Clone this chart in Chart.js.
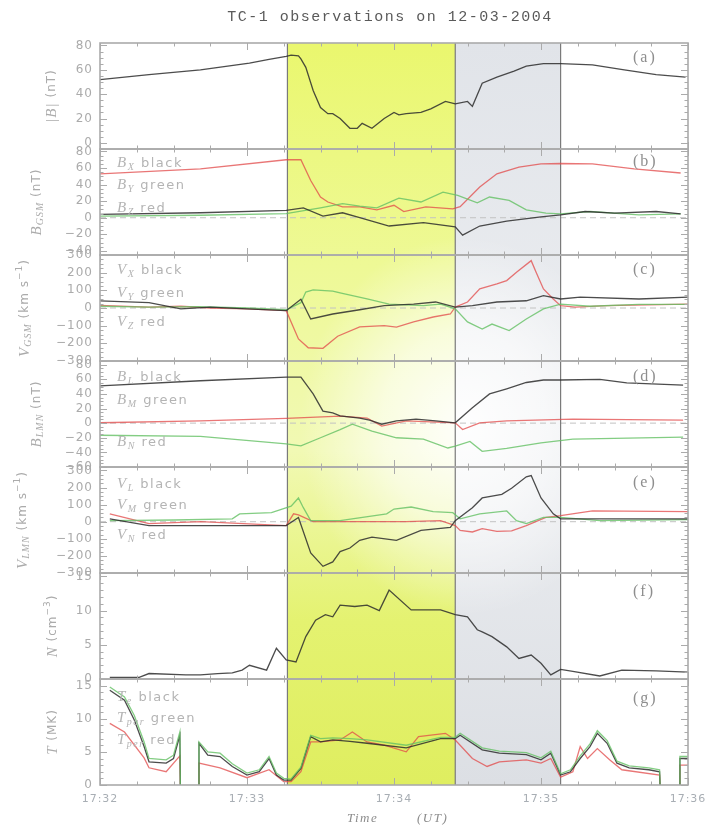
<!DOCTYPE html>
<html>
<head>
<meta charset="utf-8">
<script src="https://cdn.jsdelivr.net/npm/chart.js@4.4.0/dist/chart.umd.min.js"></script>
<style>
  html, body { margin: 0; padding: 0; background: #fff; }
  canvas { display: block; }
</style>
</head>
<body>
<canvas id="tc1" width="716" height="827"></canvas>
<script>
// Time is given in seconds after 17:32:00 UT.
const timeTicks = [0, 60, 120, 180, 240];
const timeTickLabels = ['17:32', '17:33', '17:34', '17:35', '17:36'];
const intervalYellow = [76.5, 145];
const intervalGrey = [145, 188];

// (a) |B|
const tAbsB = [0,20,41,61,69,76,78,81,82,84,87,90,93,95,98,102,105,107,111,116,120,122,125,131,135,141,145,150,152,156,162,169,174,181,188,201,214,227,239];
const absB  = [52,56,60,65.5,68.5,71,72,71.5,69,62,43,29,24,24,20,12,12,16,12,20,25,23,24,25,28,34,32,34,30,49,54,59,63,65,65,64,60,56,54];

// (b) B in GSM
const tBx = [0,41,76,82,86,90,93,99,106,113,120,124,133,144,147,155,162,171,180,188,201,218,237];
const bx  = [53,59,70,70,45,25,19,13,13,9.5,15,7.5,13,10.7,13.4,37,53,61,65,65.5,65,59,54];
const tBy = [0,41,76,82,90,99,106,113,122,131,140,146,154,159,167,174,182,188,200,220,237];
const by  = [2,3,5,8,12,17,14,12,23.6,19,31,27,18,25,21,9.5,5.6,4.7,7.5,3.5,4.7];
const tBz = [0,41,76,83,91,99,106,118,132,145,148,155,166,180,188,198,210,227,237];
const bz  = [4,6,9,12,2,6,0,-10,-6,-11,-21,-10,-4,1,3.5,7.5,5.6,7.5,4.7];

// (c) V in GSM
const tVx = [0,20,33,45,60,76,82,86,95,106,116,128,137,145,152,162,174,181,188,196,220,240];
const vx  = [40,30,-5,5,-5,-15,50,-62,-34,-10,13,22,34,5,13,34,41,70,51,62,51,62];
const tVy = [0,20,40,60,76,82,84,87,95,98,109,118,132,139,145,150,156,160,167,174,181,188,200,220,240];
const vy  = [10,5,8,0,-10,30,90,103,95,85,51,22,13,22,-5,-79,-119,-91,-128,-62,-5,22,10,20,20];
const tVz = [0,20,33,45,60,76,81,85,91,97,106,116,121,128,136,143,145,150,155,162,166,170,176,178,181,185,188,194,207,240];
const vz  = [15,5,10,0,-5,-15,-175,-225,-228,-160,-107,-100,-108,-79,-51,-34,5,34,108,136,155,202,268,202,108,51,13,5,13,22];

// (d) B in LMN
const tBL = [0,41,76,82,87,91,95,98,106,110,115,121,129,137,145,152,159,166,174,181,188,204,215,238];
const bl  = [51,58,63,63,40,16.5,14,10,7,4,-1.5,3,5.5,3,0.5,21,40,47,55.6,59,59,60,55,52];
const tBM = [0,41,76,82,90,98,103,111,121,132,142,145,151,156,166,180,193,238];
const bm  = [-16.6,-18,-28.5,-31,-20,-9,-1.5,-11,-20,-22,-34,-31.5,-25,-38.6,-34.5,-27,-22,-19];
const tBN = [0,41,76,98,109,115,125,145,148,155,166,193,238];
const bn  = [0.5,3,6.4,9.7,7,-4,3,0.5,-8.7,0.5,3,5.5,4];

// (e) V in LMN
const tVL = [4,20,76,81,86,91,95,98,102,106,111,121,131,143,145,152,156,164,168,174,176,180,185,188,207,240];
const vl  = [17,-23,-23,25,-183,-261,-235,-175,-154,-109,-90,-109,-51,-33,6,82,139,160,196,263,270,139,46,17,17,17];
const tVM = [4,30,54,57,70,78,81,83,86,98,117,120,127,136,144,147,155,166,170,174,181,188,204,240];
const vm  = [6,10,17,46,53,91,139,82,6,6,46,74,86,59,53,17,46,63,6,-11,25,25,6,12];
const tVN = [4,20,41,76,79,81,87,106,125,139,145,147,152,156,162,168,174,182,188,201,240];
const vn  = [46,-11,0,-23,46,40,0,0,0,6,-23,-51,-60,-40,-56,-54,-23,25,35,63,59];

// (f) density
const tN = [4,16,20,35,41,48,54,58,61,68,72,76,80,84,88,92,95,98,104,109,114,118,127,139,145,150,154,156,160,166,171,176,180,184,188,193,204,213,227,240];
const dens = [0.25,0.25,0.8,0.6,0.6,0.8,0.9,1.3,2.0,1.3,4.5,2.8,2.5,6.2,8.6,9.4,9.1,10.8,10.6,10.8,10.0,13.0,10.1,10.1,9.4,9.1,7.2,6.9,6.2,4.7,3.0,3.5,2.3,0.6,1.4,1.1,0.44,1.3,1.2,1.0];

// (g) temperatures (null = data gap)
const tTe = [4,10,14,18,20,27,30,32.6,32.8,36,40.2,40.4,44,49,54,60,65,69,72,75,78,82,86,90,95,102,109,125,139,145,147,156,163,174,180,184,188,192,196,200,203,207,211,216,224,228.4,228.6,232,236.5,236.7,240];
const te   = [14.3,12.8,9.8,5.8,3.5,3.3,4.0,7.5,0,null,0,6.3,4.5,4.3,2.8,1.5,2.0,4.0,1.5,0.75,0.75,2.5,7.3,6.5,6.8,6.6,6.3,5.6,7.0,7.0,7.5,5.3,4.8,4.6,3.8,4.8,1.5,2.0,4.0,5.8,7.8,6.3,3.3,2.6,2.3,2.0,0,null,0,4.0,4.0];
const tpar = [14.8,13.3,10.5,6.5,4.0,3.8,4.5,8.0,0,null,0,6.5,5.0,4.8,3.2,1.8,2.3,4.3,1.8,1.0,0.9,2.7,7.5,7.0,7.1,7.0,6.8,6.0,7.2,7.2,7.8,5.6,5.1,4.9,4.1,5.1,1.7,2.3,4.4,6.2,8.2,6.7,3.6,2.9,2.6,2.3,0,null,0,4.3,4.3];
const tTper = [4,10,18,20,27,32.6,32.8,36,40.2,40.4,49,60,69,75,78,82,86,90,98,103,109,116,125,130,141,145,152,158,163,174,180,184,188,193,196,199,203,208,213,228.4,228.6,232,236.5,236.7,240];
const tper  = [9.3,8.0,4.1,2.6,2.0,4.4,0,null,0,3.3,2.6,1.1,2.3,0.5,0.5,2.0,6.5,6.5,6.8,8.0,6.5,6.0,5.0,7.3,7.8,6.8,4.0,2.8,3.5,3.8,3.3,4.0,1.2,2.0,5.8,4.0,5.5,3.8,2.3,1.5,0,null,0,3.0,3.0];

// Axis tick values per panel
const ticksA = [0,20,40,60,80];
const ticksB = [-40,-20,0,20,40,60,80];
const ticksC = [-300,-200,-100,0,100,200,300];
const ticksD = [-60,-40,-20,0,20,40,60,80];
const ticksE = [-300,-200,-100,0,100,200,300];
const ticksF = [0,5,10,15];
const ticksG = [0,5,10,15];

// ---------- styling ----------
const C_BLACK = 'rgba(45,45,45,0.85)';
const C_RED   = 'rgba(226,72,72,0.75)';
const C_GREEN = 'rgba(100,192,100,0.8)';
const TXT = '#ababab';
const SI  = 'italic 15px "Liberation Serif"';
const SUB = 'italic 10px "Liberation Serif"';
const SANS = '13px "DejaVu Sans"';
const ASANS = '12px "DejaVu Sans"';
const ASUP = '9px "DejaVu Sans"';

const panels = [
  { id: 'ya', min: -5,   max: 82,  ticks: ticksA, minor: 5,  zero: false, letter: '(a)', letterY: 62, titleX: 52,
    title: [['|B|', SI], [' (nT)', ASANS]] },
  { id: 'yb', min: -45,  max: 83,  ticks: ticksB, minor: 5,  zero: true,  letter: '(b)', letterY: 166, titleX: 37,
    title: [['B', SI], ['GSM', SUB, 3], [' (nT)', ASANS]] },
  { id: 'yc', min: -300, max: 300, ticks: ticksC, minor: 25, zero: true,  letter: '(c)', letterY: 274, titleX: 25,
    title: [['V', SI], ['GSM', SUB, 3], [' (km s', ASANS], ['\u22121', ASUP, -5], [')', ASANS]] },
  { id: 'yd', min: -60,  max: 85,  ticks: ticksD, minor: 5,  zero: true,  letter: '(d)', letterY: 381, titleX: 37,
    title: [['B', SI], ['LMN', SUB, 3], [' (nT)', ASANS]] },
  { id: 'ye', min: -300, max: 320, ticks: ticksE, minor: 25, zero: true,  letter: '(e)', letterY: 487, titleX: 23,
    title: [['V', SI], ['LMN', SUB, 3], [' (km s', ASANS], ['\u22121', ASUP, -5], [')', ASANS]] },
  { id: 'yf', min: 0,    max: 15.5, ticks: ticksF, minor: 1, zero: false, letter: '(f)', letterY: 596, titleX: 53,
    title: [['N', SI], [' (cm', ASANS], ['\u22123', ASUP, -5], [')', ASANS]] },
  { id: 'yg', min: 0,    max: 16,  ticks: ticksG, minor: 1,  zero: false, letter: '(g)', letterY: 703, titleX: 53,
    title: [['T', SI], [' (MK)', ASANS]] }
];

// in-panel series keys
const legends = [
  { y: 167, parts: [['B', SI], ['X', SUB, 3], [' black', SANS]] },
  { y: 189, parts: [['B', SI], ['Y', SUB, 3], [' green', SANS]] },
  { y: 212, parts: [['B', SI], ['Z', SUB, 3], [' red', SANS]] },
  { y: 274, parts: [['V', SI], ['X', SUB, 3], [' black', SANS]] },
  { y: 297, parts: [['V', SI], ['Y', SUB, 3], [' green', SANS]] },
  { y: 326, parts: [['V', SI], ['Z', SUB, 3], [' red', SANS]] },
  { y: 381, parts: [['B', SI], ['L', SUB, 3], [' black', SANS]] },
  { y: 404, parts: [['B', SI], ['M', SUB, 3], [' green', SANS]] },
  { y: 446, parts: [['B', SI], ['N', SUB, 3], [' red', SANS]] },
  { y: 488, parts: [['V', SI], ['L', SUB, 3], [' black', SANS]] },
  { y: 509, parts: [['V', SI], ['M', SUB, 3], [' green', SANS]] },
  { y: 539, parts: [['V', SI], ['N', SUB, 3], [' red', SANS]] },
  { y: 701, parts: [['T', SI], ['e', SUB, 3], [' black', SANS]] },
  { y: 722, parts: [['T', SI], ['par', SUB, 3], [' green', SANS]] },
  { y: 744, parts: [['T', SI], ['per', SUB, 3], [' red', SANS]] }
];

function pts(t, v) { return t.map((x, i) => ({ x: x, y: v[i] })); }
function line(t, v, axis, color) {
  return { data: pts(t, v), yAxisID: axis, borderColor: color, borderWidth: 1.3,
           pointRadius: 0, tension: 0, spanGaps: false, fill: false };
}

const datasets = [
  line(tAbsB, absB, 'ya', C_BLACK),
  line(tBz, bz, 'yb', C_BLACK), line(tBy, by, 'yb', C_GREEN), line(tBx, bx, 'yb', C_RED),
  line(tVx, vx, 'yc', C_BLACK), line(tVy, vy, 'yc', C_GREEN), line(tVz, vz, 'yc', C_RED),
  line(tBL, bl, 'yd', C_BLACK), line(tBM, bm, 'yd', C_GREEN), line(tBN, bn, 'yd', C_RED),
  line(tVL, vl, 'ye', C_BLACK), line(tVM, vm, 'ye', C_GREEN), line(tVN, vn, 'ye', C_RED),
  line(tN, dens, 'yf', C_BLACK),
  line(tTe, tpar, 'yg', C_GREEN), line(tTe, te, 'yg', C_BLACK), line(tTper, tper, 'yg', C_RED)
];

function fmt(v) { return v < 0 ? '\u2212' + (-v) : String(v); }

function richText(ctx, x, y, parts, align) {
  let w = 0;
  parts.forEach(p => { ctx.font = p[1]; w += ctx.measureText(p[0]).width; });
  let cx = align === 'center' ? x - w / 2 : x;
  parts.forEach(p => {
    ctx.font = p[1];
    ctx.fillText(p[0], cx, y + (p[2] || 0));
    cx += ctx.measureText(p[0]).width;
  });
}

const scales = {
  x: {
    type: 'linear', min: 0, max: 240, position: 'bottom',
    afterBuildTicks: s => { s.ticks = timeTicks.map(v => ({ value: v })); },
    afterFit: s => { s.height = 42; },
    ticks: { autoSkip: false, maxRotation: 0, padding: 8, color: '#a8aeb4',
             font: { family: 'DejaVu Sans', size: 11 },
             callback: v => timeTickLabels[timeTicks.indexOf(v)] },
    grid: { display: false, drawTicks: false },
    border: { display: false }
  }
};
// stacked panels: the last scale registered sits at the top
[...panels].reverse().forEach(p => {
  scales[p.id] = {
    type: 'linear', position: 'left', stack: 'panels', stackWeight: 1,
    min: p.min, max: p.max, bounds: 'data',
    afterBuildTicks: s => { s.ticks = p.ticks.map(v => ({ value: v })); },
    afterFit: s => { s.width = 85; },
    ticks: { autoSkip: false, padding: 7, color: TXT, font: { family: 'DejaVu Sans', size: 12 },
             callback: v => fmt(v) },
    grid: { display: false, drawTicks: false },
    border: { display: false }
  };
});

const framePlugin = {
  id: 'frame',
  beforeDraw(chart) { chart.ctx.letterSpacing = '1px'; },
  beforeDatasetsDraw(chart) {
    const { ctx, chartArea: a, scales: sc } = chart;
    const xs = sc.x;
    const x0 = xs.getPixelForValue(intervalYellow[0]);
    const x1 = xs.getPixelForValue(intervalYellow[1]);
    const x2 = xs.getPixelForValue(intervalGrey[1]);
    const h = a.bottom - a.top;
    ctx.save();
    let g = ctx.createLinearGradient(0, a.top, 0, a.bottom);
    g.addColorStop(0, '#eaf76e'); g.addColorStop(0.3, '#eef996'); g.addColorStop(0.55, '#f1f9b4');
    g.addColorStop(0.78, '#e4f270'); g.addColorStop(1, '#dfee60');
    ctx.fillStyle = g; ctx.fillRect(x0, a.top, x1 - x0, h);
    g = ctx.createLinearGradient(0, a.top, 0, a.bottom);
    g.addColorStop(0, '#e1e4e9'); g.addColorStop(0.5, '#eceef1'); g.addColorStop(1, '#dcdfe4');
    ctx.fillStyle = g; ctx.fillRect(x1, a.top, x2 - x1, h);

    // pale haze over the middle of the shaded band
    const cx = x1 + 10, cy = sc.yd.top + 65;
    const k = 1.15;
    ctx.save();
    ctx.beginPath(); ctx.rect(x0, a.top, x2 - x0, h); ctx.clip();
    ctx.translate(cx, cy); ctx.scale(1, k);
    const r = ctx.createRadialGradient(0, 0, 0, 0, 0, 165);
    r.addColorStop(0, 'rgba(255,255,255,0.95)');
    r.addColorStop(0.5, 'rgba(255,255,255,0.62)');
    r.addColorStop(1, 'rgba(255,255,255,0)');
    ctx.fillStyle = r;
    ctx.fillRect(-400, -400, 800, 800);
    ctx.restore();

    // dashed zero references
    ctx.setLineDash([6, 4]); ctx.strokeStyle = '#c2c2c2'; ctx.lineWidth = 1;
    panels.filter(p => p.zero).forEach(p => {
      const y = sc[p.id].getPixelForValue(0);
      ctx.beginPath(); ctx.moveTo(a.left, y); ctx.lineTo(a.right, y); ctx.stroke();
    });
    ctx.setLineDash([]);

    // interval boundaries
    ctx.strokeStyle = '#7a7a7a'; ctx.lineWidth = 1.2;
    [x0, x1, x2].forEach(x => { ctx.beginPath(); ctx.moveTo(x, a.top); ctx.lineTo(x, a.bottom); ctx.stroke(); });
    ctx.restore();
  },
  afterDatasetsDraw(chart) {
    const { ctx, chartArea: a, scales: sc } = chart;
    const xs = sc.x;
    ctx.save();
    ctx.strokeStyle = '#ababab';
    panels.forEach(p => {
      const s = sc[p.id];
      ctx.lineWidth = 1;
      // inward tick marks on both sides
      for (let v = Math.ceil(s.min / p.minor) * p.minor; v <= s.max + 1e-9; v += p.minor) {
        const y = Math.round(s.getPixelForValue(v)) + 0.5;
        const len = p.ticks.includes(v) ? 7 : 3.5;
        ctx.beginPath();
        ctx.moveTo(a.left, y); ctx.lineTo(a.left + len, y);
        ctx.moveTo(a.right, y); ctx.lineTo(a.right - len, y);
        ctx.stroke();
      }
      for (let t = 0; t <= 240; t += 15) {
        const x = Math.round(xs.getPixelForValue(t)) + 0.5;
        const len = t % 60 === 0 ? 7 : 3.5;
        ctx.beginPath();
        ctx.moveTo(x, s.top); ctx.lineTo(x, s.top + len);
        ctx.moveTo(x, s.bottom); ctx.lineTo(x, s.bottom - len);
        ctx.stroke();
      }
      ctx.lineWidth = 1.6;
      ctx.strokeRect(a.left, s.top, a.right - a.left, s.bottom - s.top);
    });
    ctx.restore();
  },
  afterDraw(chart) {
    const { ctx, chartArea: a, scales: sc } = chart;
    ctx.save();
    ctx.letterSpacing = '1.5px';
    // title
    ctx.fillStyle = '#5a5a5a';
    ctx.textBaseline = 'middle'; ctx.textAlign = 'center';
    ctx.font = '15px "Liberation Mono"';
    ctx.fillText('TC-1 observations on 12-03-2004', 390, 17);

    // time axis title
    ctx.textAlign = 'left'; ctx.textBaseline = 'alphabetic';
    ctx.fillStyle = '#8c8c8c';
    ctx.font = 'italic 13px "Liberation Serif"';
    ctx.fillText('Time', 347, 822);
    ctx.fillText('(UT)', 417, 822);

    // panel axis titles
    ctx.fillStyle = TXT;
    ctx.letterSpacing = '1px';
    panels.forEach(p => {
      const s = sc[p.id];
      ctx.save();
      ctx.translate(p.titleX, (s.top + s.bottom) / 2);
      ctx.rotate(-Math.PI / 2);
      ctx.textBaseline = 'middle';
      richText(ctx, 0, 0, p.title, 'center');
      ctx.restore();
    });

    // series keys
    ctx.letterSpacing = '1.5px';
    ctx.textBaseline = 'alphabetic';
    ctx.fillStyle = '#b4b4b4';
    legends.forEach(l => richText(ctx, 117, l.y, l.parts, 'left'));

    // panel letters
    ctx.fillStyle = '#8e8e8e';
    ctx.letterSpacing = '2px';
    ctx.font = '16px "Liberation Serif"';
    ctx.textAlign = 'left';
    panels.forEach(p => ctx.fillText(p.letter, 633, p.letterY));
    ctx.restore();
  }
};

new Chart(document.getElementById('tc1'), {
  type: 'line',
  data: { datasets: datasets },
  options: {
    responsive: false,
    animation: false,
    devicePixelRatio: 1,
    events: [],
    layout: { padding: { top: 43, left: 15, right: 28, bottom: 0 } },
    plugins: { legend: { display: false }, tooltip: { enabled: false }, title: { display: false } },
    scales: scales
  },
  plugins: [framePlugin]
});
</script>
</body>
</html>
